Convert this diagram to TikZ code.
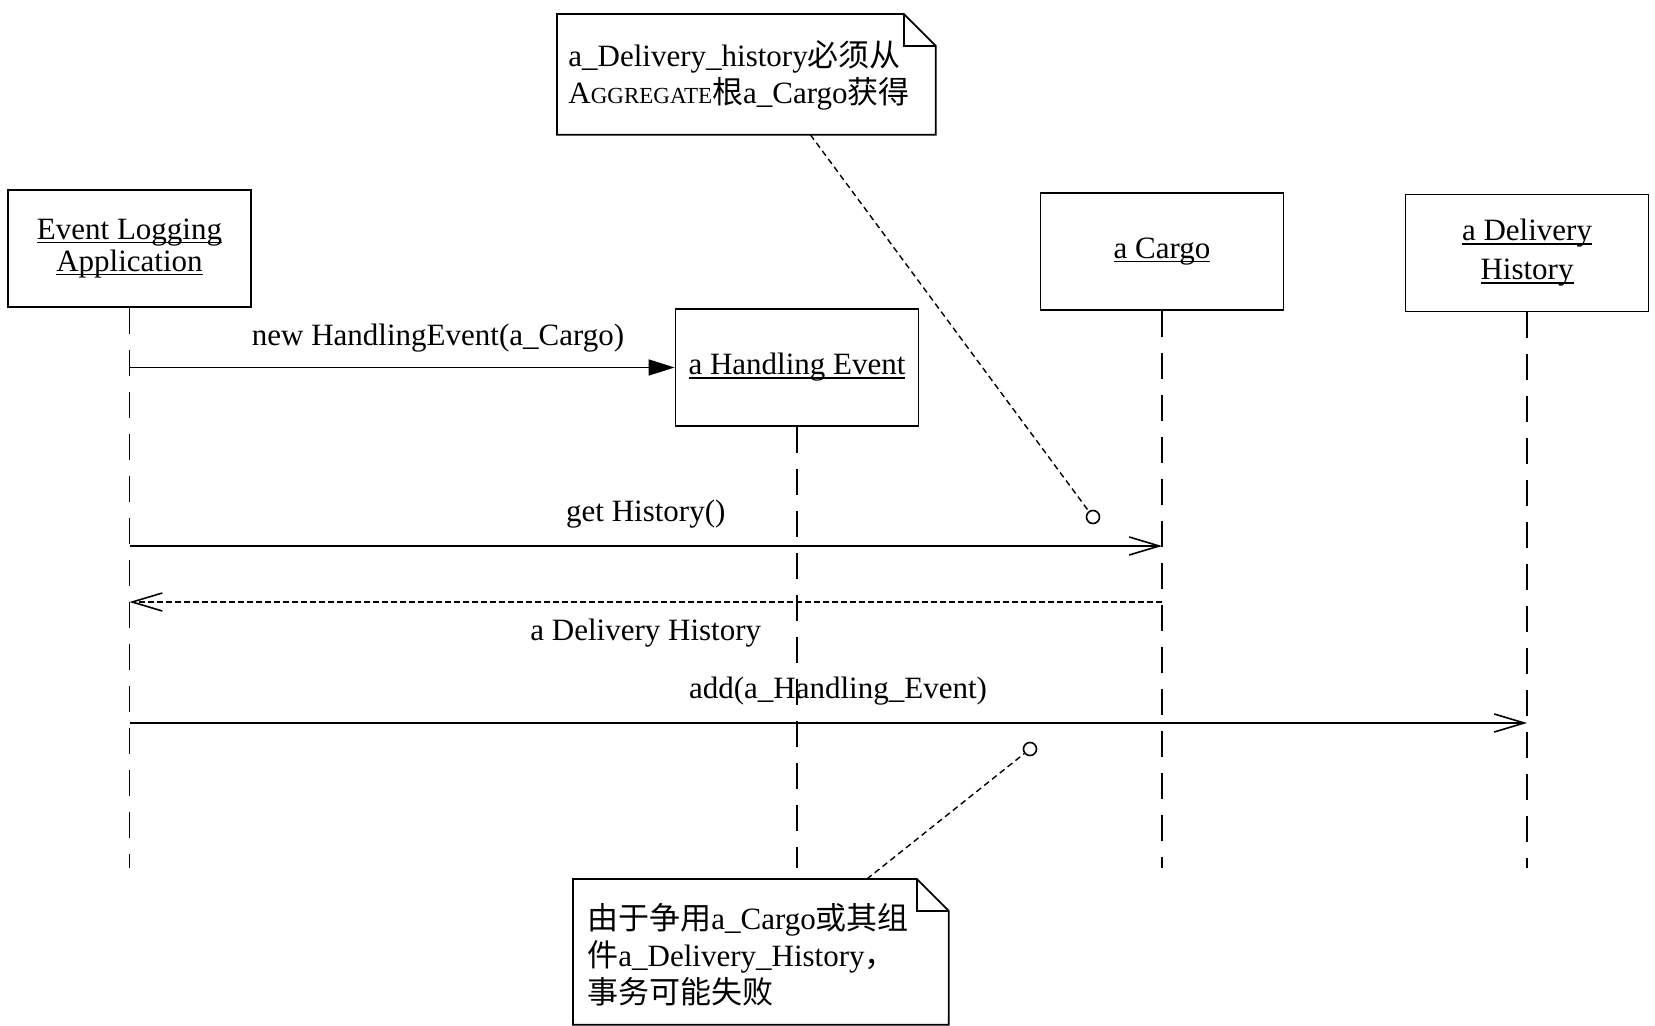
\documentclass[tikz,border=0pt]{standalone}
\usepackage{fontspec}
\setmainfont{Liberation Serif}
\newfontfamily\cjk{Noto Sans CJK SC}
\usetikzlibrary{arrows.meta}

\newcommand{\zh}[1]{{\cjk #1}}
\newcommand{\aggr}{A{\fontsize{11.5}{12}\selectfont GGREGATE}}
% object name, underlined close to the baseline
\newcommand{\objname}[1]{\begingroup\setbox0\hbox{#1}\rlap{\rule[-1.8pt]{\wd0}{0.7pt}}\box0\endgroup}

\begin{document}
\begin{tikzpicture}[x=0.5pt, y=-0.5pt,
    every node/.style={font=\fontsize{15.5}{16}\selectfont},
    obj/.style={draw, line width=0.9pt, minimum width=121.5pt, minimum height=58.5pt,
        align=center, inner sep=0pt},
    life/.style={line width=0.8pt, dash pattern=on 13pt off 8pt},
    sync/.style={line width=0.8pt, -{Triangle[length=13pt,width=8pt]}},
    call/.style={line width=0.8pt, -{Straight Barb[length=15pt,width=9pt]}},
    reply/.style={line width=0.8pt, dash pattern=on 3pt off 1.5pt,
        -{Straight Barb[length=15pt,width=9pt]}},
    notebox/.style={anchor=north west, align=left, inner ysep=0pt,
        font=\fontsize{15.5}{18.5}\selectfont},
    noteline/.style={line width=0.9pt},
    anchorline/.style={line width=0.7pt, dash pattern=on 3pt off 2pt},
    pin/.style={circle, draw, line width=0.8pt, minimum size=6.5pt, inner sep=0pt, fill=white}
]
    \useasboundingbox (0,0) rectangle (1655,1026);

    % --- OBJECTS ---
    \node[obj] (app) at (129.5,248.5) {\objname{Event Logging}\\\objname{Application}};
    \node[obj] (hev) at (797,367.5) {\objname{a Handling Event}};
    \node[obj] (cargo) at (1162,251.5) {\objname{a Cargo}};
    \node[obj] (dhist) at (1527,253) {\objname{a Delivery}\\[3.5pt]\objname{History}};

    % lifelines
    \foreach \o in {app,hev,cargo,dhist} {
        \coordinate (\o-end) at (\o.south |- 0,868);
        \draw[life] (\o.south) -- (\o-end);
    }

    % --- MESSAGES ---
    \coordinate (m2) at (0,546);
    \coordinate (m3) at (0,602);
    \coordinate (m4) at (0,723);

    \draw[sync] (app.south |- hev.west) -- (hev.west)
        node[pos=.566, above=4pt] {new HandlingEvent(a\_Cargo)};
    \draw[call] (app.south |- m2) -- (cargo.south |- m2)
        node[midway, above=5pt] {get History()};
    \draw[reply] (cargo.south |- m3) -- (app.south |- m3)
        node[midway, below=5pt] {a Delivery History};
    \draw[call] (app.south |- m4) -- (dhist.south |- m4)
        node[pos=.507, above=5pt] {add(a\_Handling\_Event)};

    % --- NOTES ---
    \node[notebox, text width=178pt, minimum height=60pt, inner xsep=5.5pt] (note1) at (557,14)
        {\rule{0pt}{14pt}a\_Delivery\_history\zh{必须从}\\\aggr\zh{根}a\_Cargo\zh{获得}};
    \draw[noteline] (note1.south west) -- (note1.north west) -- ([xshift=-16pt]note1.north east)
        -- ([yshift=-16pt]note1.north east) -- (note1.south east) -- cycle;
    \draw[noteline] ([xshift=-16pt]note1.north east) -- ([xshift=-16pt,yshift=-16pt]note1.north east)
        -- ([yshift=-16pt]note1.north east);

    \node[notebox, text width=173.5pt, minimum height=72.5pt, inner xsep=7pt] (note2) at (573,879)
        {\rule{0pt}{16pt}\zh{由于争用}a\_Cargo\zh{或其组}\\\zh{件}a\_Delivery\_History\zh{，}\\\zh{事务可能失败}};
    \draw[noteline] (note2.south west) -- (note2.north west) -- ([xshift=-16pt]note2.north east)
        -- ([yshift=-16pt]note2.north east) -- (note2.south east) -- cycle;
    \draw[noteline] ([xshift=-16pt]note2.north east) -- ([xshift=-16pt,yshift=-16pt]note2.north east)
        -- ([yshift=-16pt]note2.north east);

    % note anchors
    \node[pin] (pin1) at (1093,517) {};
    \node[pin] (pin2) at (1030,749) {};
    \draw[anchorline] ([xshift=32pt]note1.south) -- (pin1);
    \draw[anchorline] ([xshift=53pt]note2.north) -- (pin2);
\end{tikzpicture}
\end{document}
